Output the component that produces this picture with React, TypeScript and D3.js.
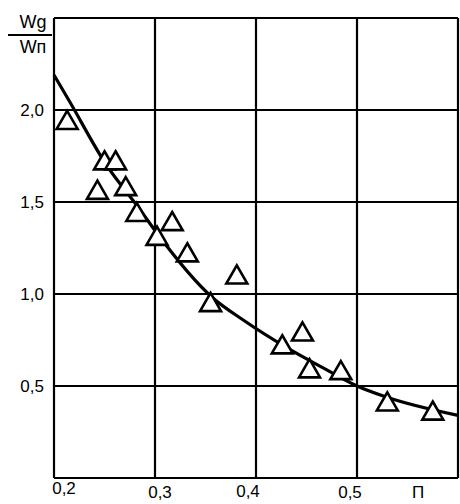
import * as d3 from "d3";

// grid ticks
const xTicks = [0.2, 0.3, 0.4, 0.5, 0.6];
const yTicks = [0.5, 1.0, 1.5, 2.0, 2.5];
const xTickLabels = ["0,2", "0,3", "0,4", "0,5"];
const yTickLabels = ["0,5", "1,0", "1,5", "2,0"];

// measured points (triangles)
const pointN = [0.213, 0.243, 0.25, 0.261, 0.271, 0.282, 0.302, 0.317, 0.332, 0.355, 0.381, 0.426, 0.446, 0.453, 0.484, 0.53, 0.575];
const pointRatio = [1.93, 1.55, 1.71, 1.71, 1.57, 1.43, 1.30, 1.38, 1.21, 0.94, 1.09, 0.71, 0.78, 0.58, 0.57, 0.40, 0.35];

// fitted curve
const curveN = [0.2, 0.215, 0.252, 0.285, 0.302, 0.357, 0.387, 0.43, 0.466, 0.5, 0.529, 0.6];
const curveRatio = [2.19, 2.05, 1.7, 1.46, 1.33, 0.98, 0.86, 0.71, 0.6, 0.5, 0.44, 0.34];

const W = 460;
const H = 504;

export default function App() {
  const x = d3.scaleLinear().domain([0.2, 0.6]).range([54, 458]);
  const y = d3.scaleLinear().domain([0, 2.5]).range([478, 18]);

  const line = d3
    .line<number>()
    .x((_, i) => x(curveN[i]))
    .y((d) => y(d))
    .curve(d3.curveMonotoneX);

  const tri = d3.symbol().type(d3.symbolTriangle).size(190);

  // small offsets so labels sit like in the scan
  const xLabelShift = [10, 5, -8, -7];
  const xLabelY = [494, 498, 497, 498];

  return (
    <svg
      width={W}
      height={H}
      style={{ position: "absolute", left: 0, top: 0, background: "#fff" }}
      fontFamily="Liberation Sans, Arial, sans-serif"
    >
      {/* grid */}
      {xTicks.map((t) => (
        <line key={"vx" + t} x1={x(t)} x2={x(t)} y1={y(2.5)} y2={y(0)} stroke="#000" strokeWidth={2.2} />
      ))}
      {[0, ...yTicks].map((t) => (
        <line key={"hy" + t} x1={x(0.2)} x2={x(0.6)} y1={y(t)} y2={y(t)} stroke="#000" strokeWidth={2.2} />
      ))}

      {/* curve */}
      <path d={line(curveRatio) ?? ""} fill="none" stroke="#000" strokeWidth={3.2} />

      {/* triangles */}
      {pointN.map((n, i) => (
        <path
          key={"p" + i}
          d={tri() ?? ""}
          transform={`translate(${x(n)},${y(pointRatio[i])})`}
          fill="#fff"
          stroke="#000"
          strokeWidth={2.6}
        />
      ))}

      {/* y labels */}
      {yTickLabels.map((l, i) => (
        <text key={l} x={44} y={y(yTicks[i]) + 6} textAnchor="end" fontSize={17}>
          {l}
        </text>
      ))}

      {/* x labels */}
      {xTickLabels.map((l, i) => (
        <text key={l} x={x(xTicks[i]) + xLabelShift[i]} y={xLabelY[i]} textAnchor="middle" fontSize={17}>
          {l}
        </text>
      ))}
      <text x={418} y={498} textAnchor="middle" fontSize={17}>
        П
      </text>

      {/* axis title */}
      <text x={33} y={28} textAnchor="middle" fontSize={18}>
        Wg
      </text>
      <line x1={8} x2={52} y1={35} y2={35} stroke="#000" strokeWidth={2} />
      <text x={33} y={53} textAnchor="middle" fontSize={18}>
        Wп
      </text>
    </svg>
  );
}
